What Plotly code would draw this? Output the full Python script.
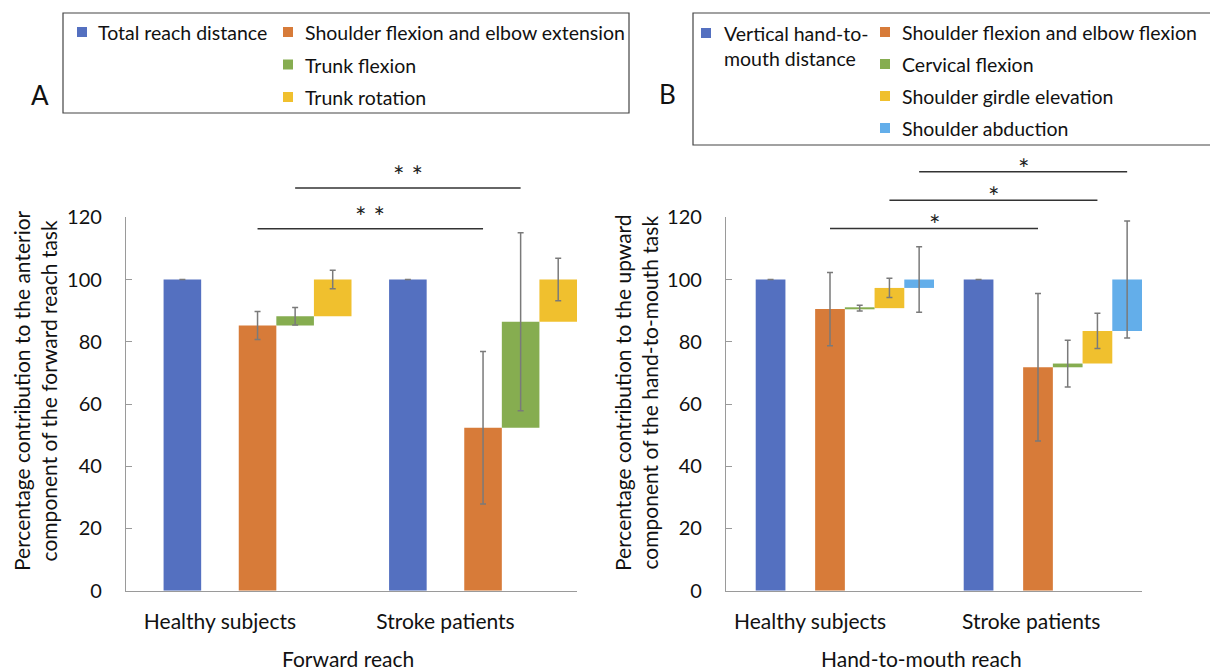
import plotly.graph_objects as go

# the page body adds an 8 px margin, so the figure is drawn 8 px in from the window edge
OFF = 8
W, H = 1218 - OFF, 671 - OFF
FONT = "Lato, 'Open Sans', sans-serif"

# ---------------- data ----------------
groups = ["Healthy subjects", "Stroke patients"]

# Panel A - forward reach (percentage contribution, waterfall)
a_series = ["Total reach distance", "Shoulder flexion and elbow extension",
            "Trunk flexion", "Trunk rotation"]
a_total = [100.0, 100.0]
a_shoulder_elbow = [85.2, 52.4]
a_trunk_flexion = [3.0, 34.0]
a_trunk_rotation = [11.8, 13.6]
a_total_sd = [0.0, 0.0]
a_shoulder_elbow_sd = [4.5, 24.5]
a_trunk_flexion_sd = [2.8, 28.6]
a_trunk_rotation_sd = [3.0, 6.8]

# Panel B - hand-to-mouth reach
b_series = ["Vertical hand-to-mouth distance", "Shoulder flexion and elbow flexion",
            "Cervical flexion", "Shoulder girdle elevation", "Shoulder abduction"]
b_total = [100.0, 100.0]
b_shoulder_elbow = [90.5, 71.8]
b_cervical_flexion = [0.3, 1.2]
b_girdle_elevation = [6.5, 10.5]
b_shoulder_abduction = [2.7, 16.5]
b_total_sd = [0.0, 0.0]
b_shoulder_elbow_sd = [11.8, 23.7]
b_cervical_flexion_sd = [0.9, 7.5]
b_girdle_elevation_sd = [3.1, 5.7]
b_shoulder_abduction_sd = [10.5, 18.8]

y_ticks = [0, 20, 40, 60, 80, 100, 120]
a_ytitle = "Percentage contribution to the anterior<br>component of the forward reach task"
b_ytitle = "Percentage contribution to the upward<br>component of the hand-to-mouth task"
a_xtitle = "Forward reach"
b_xtitle = "Hand-to-mouth reach"

# significance brackets: (component index, label, line level, label level)
a_sig = [(0, "* *", 116.3, 120.3), (1, "* *", 129.4, 133.5)]
b_sig = [(0, "*", 116.4, 117.6), (2, "*", 125.5, 126.7), (3, "*", 134.6, 135.6)]

# ---------------- style ----------------
BLUE, ORANGE, GREEN, YELLOW, LBLUE = "#5470C0", "#D77B39", "#86AD50", "#F0C02E", "#63AEEA"
a_colors = [BLUE, ORANGE, GREEN, YELLOW]
b_colors = [BLUE, ORANGE, GREEN, YELLOW, LBLUE]
AXIS_COL = "#9a9a9a"
ERR_COL = "#7a7a7a"


def px(x):
    return (x - OFF) / W


def py(y):
    return 1 - (y - OFF) / H


fig = go.Figure()


def add_panel(xa, ya, totals, comps, sds, colors, names):
    n = len(comps)
    S = n + 3  # slots per group
    fig.add_trace(go.Bar(
        x=[g * S + 1.5 for g in range(len(groups))], y=totals, base=[0] * len(groups),
        width=1, marker=dict(color=colors[0], line=dict(width=0)), name=names[0],
        error_y=dict(type="data", array=sds[0], color=ERR_COL, thickness=1.5, width=3),
        xaxis=xa, yaxis=ya, showlegend=False))
    cum = [0.0] * len(groups)
    for k in range(n):
        fig.add_trace(go.Bar(
            x=[g * S + 3.5 + k for g in range(len(groups))], y=comps[k], base=list(cum),
            width=1, marker=dict(color=colors[k + 1], line=dict(width=0)), name=names[k + 1],
            error_y=dict(type="data", array=sds[k + 1], color=ERR_COL, thickness=1.5, width=3),
            xaxis=xa, yaxis=ya, showlegend=False))
        cum = [c + v for c, v in zip(cum, comps[k])]
    return S


SA = add_panel("x", "y", a_total, [a_shoulder_elbow, a_trunk_flexion, a_trunk_rotation],
               [a_total_sd, a_shoulder_elbow_sd, a_trunk_flexion_sd, a_trunk_rotation_sd],
               a_colors, a_series)
SB = add_panel("x2", "y2", b_total,
               [b_shoulder_elbow, b_cervical_flexion, b_girdle_elevation, b_shoulder_abduction],
               [b_total_sd, b_shoulder_elbow_sd, b_cervical_flexion_sd, b_girdle_elevation_sd,
                b_shoulder_abduction_sd],
               b_colors, b_series)

ydom = [py(590.7), py(217.3)]
yax = dict(range=[0, 120], domain=ydom, tickvals=y_ticks, ticks="inside", ticklen=6,
           tickcolor=AXIS_COL, showline=True, linecolor=AXIS_COL, linewidth=1.3,
           showgrid=False, zeroline=False, ticklabelstandoff=19, automargin=False,
           tickfont=dict(family=FONT, size=20, color="#111"))
xax = dict(showline=True, linecolor=AXIS_COL, linewidth=1.3, ticks="", showgrid=False,
           zeroline=False, ticklabelstandoff=12, automargin=False,
           tickfont=dict(family=FONT, size=21, color="#111"))

fig.update_layout(
    width=W, height=H, autosize=False, margin=dict(l=0, r=0, t=0, b=0, pad=0),
    paper_bgcolor="white", plot_bgcolor="white", barmode="overlay",
    font=dict(family=FONT, color="#111"),
    xaxis=dict(xax, domain=[px(126), px(577)], range=[0, 2 * SA],
               tickvals=[2.5, 8.5], ticktext=groups),
    yaxis=dict(yax, anchor="x"),
    xaxis2=dict(xax, domain=[px(726), px(1142)], range=[0, 2 * SB],
                tickvals=[2.83, 10.27], ticktext=groups, anchor="y2"),
    yaxis2=dict(yax, anchor="x2"),
)

ann = []
shapes = []

# axis titles
ann.append(dict(x=px(35), y=py(391), xref="paper", yref="paper", text=a_ytitle, textangle=-90,
                showarrow=False, font=dict(family=FONT, size=21), xanchor="center", yanchor="middle"))
ann.append(dict(x=px(636), y=py(393), xref="paper", yref="paper", text=b_ytitle, textangle=-90,
                showarrow=False, font=dict(family=FONT, size=21), xanchor="center", yanchor="middle"))
ann.append(dict(x=px(348), y=py(658), xref="paper", yref="paper", text=a_xtitle, showarrow=False,
                font=dict(family=FONT, size=21), xanchor="center", yanchor="middle"))
ann.append(dict(x=px(922), y=py(658), xref="paper", yref="paper", text=b_xtitle, showarrow=False,
                font=dict(family=FONT, size=21), xanchor="center", yanchor="middle"))

# panel letters
ann.append(dict(x=px(40), y=py(95), xref="paper", yref="paper", text="A", showarrow=False,
                font=dict(family=FONT, size=26), xanchor="center", yanchor="middle"))
ann.append(dict(x=px(667), y=py(94), xref="paper", yref="paper", text="B", showarrow=False,
                font=dict(family=FONT, size=26), xanchor="center", yanchor="middle"))

# significance brackets
for sig, S, xd, yd in ((a_sig, SA, "x domain", "y domain"), (b_sig, SB, "x2 domain", "y2 domain")):
    for k, lab, yline, ystar in sig:
        x0 = 3.5 + k
        x1 = S + 3.5 + k
        shapes.append(dict(type="line", xref=xd, yref=yd, x0=x0 / (2 * S), x1=x1 / (2 * S),
                           y0=yline / 120, y1=yline / 120, line=dict(color="#333", width=1.5)))
        ann.append(dict(xref=xd, yref=yd, x=(x0 + x1) / 2 / (2 * S), y=ystar / 120, text=lab,
                        showarrow=False, font=dict(family=FONT, size=27, color="#222"),
                        xanchor="center", yanchor="middle"))

# legends (drawn by hand to match the boxed two-column layout)
shapes.append(dict(type="rect", xref="paper", yref="paper", x0=px(63), x1=px(629), y0=py(13),
                   y1=py(113), line=dict(color="#444", width=1.2), fillcolor="rgba(0,0,0,0)"))
shapes.append(dict(type="rect", xref="paper", yref="paper", x0=px(693), x1=px(1240), y0=py(13),
                   y1=py(145), line=dict(color="#444", width=1.2), fillcolor="rgba(0,0,0,0)"))


def legend_item(sq_x, row_y, text, color, text_x):
    shapes.append(dict(type="rect", xref="paper", yref="paper", x0=px(sq_x - 5), x1=px(sq_x + 5),
                       y0=py(row_y - 5), y1=py(row_y + 5), fillcolor=color, line=dict(width=0)))
    ann.append(dict(x=px(text_x), y=py(row_y - 13), xref="paper", yref="paper", text=text,
                    showarrow=False, align="left", xanchor="left", yanchor="top",
                    font=dict(family=FONT, size=19.5, color="#111")))


legend_item(82, 32, a_series[0], a_colors[0], 96)
for i in range(1, len(a_series)):
    legend_item(288, 32 + 32.5 * (i - 1), a_series[i], a_colors[i], 303)

legend_item(706, 33, b_series[0].replace("hand-to-", "hand-to-<br>", 1), b_colors[0], 722)
for i in range(1, len(b_series)):
    legend_item(885, 32 + 32 * (i - 1), b_series[i], b_colors[i], 900)

fig.update_layout(annotations=ann, shapes=shapes)
fig.write_html("out.html")
